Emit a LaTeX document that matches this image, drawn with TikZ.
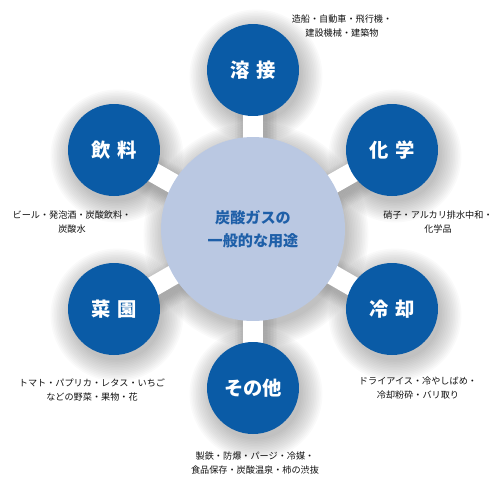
\documentclass[tikz,border=0pt]{standalone}
\usepackage{fontspec}
\setmainfont{Noto Sans CJK JP}
\usetikzlibrary{calc}
\definecolor{satblue}{HTML}{0A5BA6}
\definecolor{hubfill}{HTML}{BAC8E2}
\definecolor{hubtext}{HTML}{1E5FA8}
\definecolor{desc}{HTML}{111111}
\pgfdeclarelayer{shadowlayer}
\pgfdeclarelayer{spokelayer}
\pgfsetlayers{shadowlayer,spokelayer,main}
\tikzset{
  sat/.style={circle,fill=satblue,minimum size=1.84cm,inner sep=0pt,text=white,font=\fontsize{11pt}{13pt}\selectfont\bfseries},
  hub/.style={circle,fill=hubfill,minimum size=3.68cm,inner sep=0pt,text=hubtext,align=center,font=\fontsize{8.6pt}{13pt}\selectfont\bfseries},
  desctext/.style={align=center,text=desc,inner sep=0pt,font=\fontsize{5.2pt}{8pt}\selectfont},
  spoke/.style={white,line width=0.4cm},
}
\begin{document}
\begin{tikzpicture}[x=0.02cm,y=-0.02cm]
\useasboundingbox (0,0) rectangle (500,488);
% nodes
\node[hub] (c) at (253,229) {炭酸ガスの\\一般的な用途};
\node[sat] (s1) at (253,70) {溶\hspace{0.35em}接};
\node[sat] (s2) at (392,150) {化\hspace{0.35em}学};
\node[sat] (s3) at (392,309) {冷\hspace{0.35em}却};
\node[sat] (s4) at (253,388) {その他};
\node[sat] (s5) at (114,309) {菜\hspace{0.35em}園};
\node[sat] (s6) at (114,150) {飲\hspace{0.35em}料};
% soft shadows
\begin{pgfonlayer}{shadowlayer}
\foreach \p in {s1,s2,s3,s4,s5,s6}{
  \foreach \i in {1,...,14}{
    \fill[black,opacity=0.02] ($(\p)+(3,6)$) circle[radius={(44+\i*1.6)*0.02cm}];
  }
}
\foreach \i in {1,...,14}{
  \fill[black,opacity=0.02] ($(c)+(3,6)$) circle[radius={(90+\i*1.6)*0.02cm}];
}
\foreach \p in {s1,s2,s3,s4,s5,s6}{
  \foreach \i in {1,...,8}{
    \draw[black,opacity=0.02,line width={(18+\i*3)*0.02cm}] ($(c)+(3,6)$) -- ($(\p)+(3,6)$);
  }
}
\end{pgfonlayer}
% spokes
\begin{pgfonlayer}{spokelayer}
\foreach \s in {s1,s2,s3,s4,s5,s6}{
  \draw[spoke] (c.center) -- (\s.center);
}
\end{pgfonlayer}
% descriptions
\node[desctext] (d1) at (342,26) {造船・自動車・飛行機・\\建設機械・建築物};
\node[desctext] (d2) at (438,222) {硝子・アルカリ排水中和・\\化学品};
\node[desctext] (d3) at (418,388) {ドライアイス・冷やしばめ・\\冷却粉砕・バリ取り};
\node[desctext] (d4) at (255,463) {製鉄・防爆・パージ・冷媒・\\食品保存・炭酸温泉・柿の渋抜};
\node[desctext] (d5) at (92,390) {トマト・パプリカ・レタス・いちご\\などの野菜・果物・花};
\node[desctext] (d6) at (72,222) {ビール・発泡酒・炭酸飲料・\\炭酸水};
\end{tikzpicture}
\end{document}
